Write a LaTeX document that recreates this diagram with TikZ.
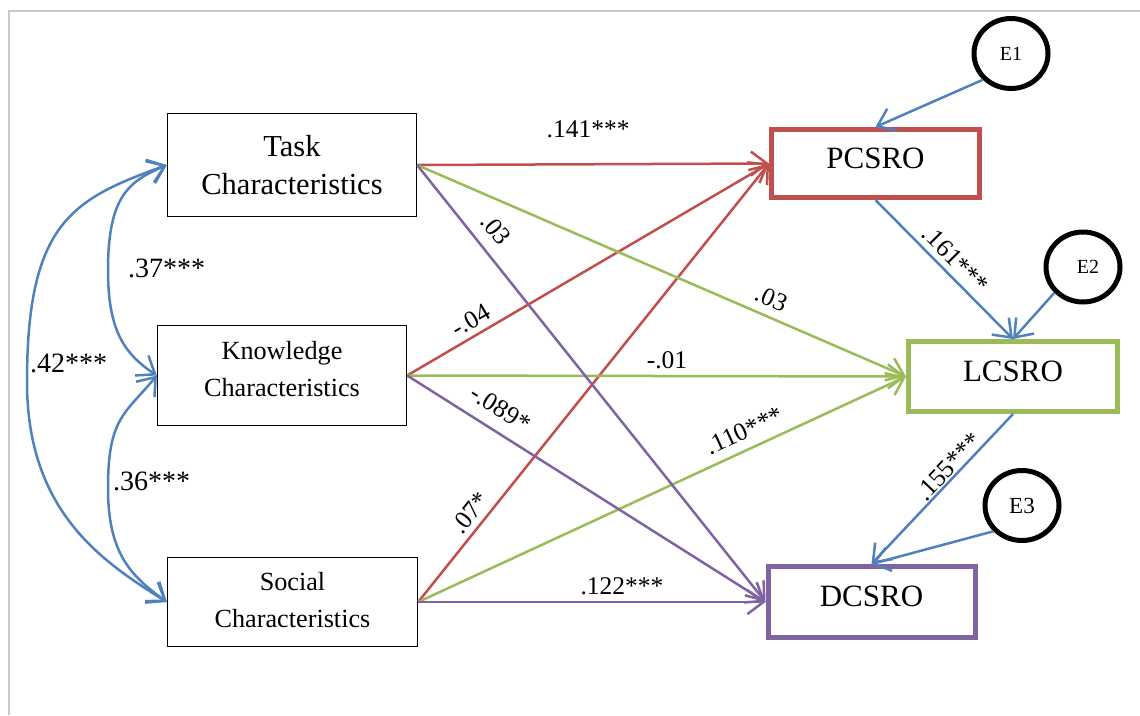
\documentclass[tikz,border=0pt]{standalone}
\usepackage{fontspec}
\setmainfont{Liberation Serif}
\usetikzlibrary{arrows.meta,shapes.geometric}
\definecolor{pathred}{HTML}{C0504D}
\definecolor{pathgreen}{HTML}{9BBB59}
\definecolor{pathpurple}{HTML}{8064A2}
\definecolor{pathblue}{HTML}{4F81BD}
\definecolor{framegray}{HTML}{C8C8C8}
\begin{document}
\begin{tikzpicture}[x=1pt,y=-1pt,
  tipend/.style={-{Straight Barb[length=16pt,width=24pt]}},
  tipboth/.style={{Straight Barb[length=16pt,width=24pt]}-{Straight Barb[length=16pt,width=24pt]}},
  exo/.style={draw=black, line width=1.3pt, rectangle, inner sep=0pt, align=center},
  endo/.style={rectangle, line width=5pt, inner sep=0pt, font=\fontsize{31}{36}\selectfont, text depth=10pt},
  err/.style={ellipse, draw=black, line width=5pt, minimum width=74pt, minimum height=70pt, inner sep=0pt},
  redpath/.style={pathred, line width=2.5pt, tipend},
  greenpath/.style={pathgreen, line width=2.5pt, tipend},
  purplepath/.style={pathpurple, line width=2.5pt, tipend},
  bluepath/.style={pathblue, line width=2.5pt, tipend},
  cov/.style={pathblue, line width=2.5pt, tipboth},
  coef/.style={font=\fontsize{25.5}{30}\selectfont, text=black},
  sidecoef/.style={font=\fontsize{28}{32}\selectfont, text=black, inner sep=0pt}
]
\useasboundingbox (0,0) rectangle (1140,715);

% page frame
\draw[framegray, line width=2pt] (9,715) -- (9,11) -- (1140,11);

% exogenous characteristics
\node[exo, minimum width=249pt, minimum height=103pt, font=\fontsize{30.5}{38}\selectfont]
  (task) at (292,165) {Task\\Characteristics};
\node[exo, minimum width=249pt, minimum height=100pt, font=\fontsize{26.2}{36.5}\selectfont, text depth=13pt]
  (know) at (282,375.5) {Knowledge\\Characteristics};
\node[exo, minimum width=250pt, minimum height=89pt, font=\fontsize{26.2}{36.5}\selectfont, text depth=4pt]
  (social) at (292.5,602) {Social\\Characteristics};

% outcome variables
\node[endo, draw=pathred, minimum width=208pt, minimum height=68pt] (pcsro) at (875.5,163.5) {PCSRO};
\node[endo, draw=pathgreen, minimum width=209pt, minimum height=70pt] (lcsro) at (1013,376.5) {LCSRO};
\node[endo, draw=pathpurple, minimum width=207pt, minimum height=71pt, text depth=12pt] (dcsro) at (871.5,602) {DCSRO};

% error terms
\node[err, font=\fontsize{20}{24}\selectfont] (e1) at (1011,53.5) {E1};
\node[err, font=\fontsize{20}{24}\selectfont] (e2) at (1083,267) {\hspace*{10pt}E2};
\node[err, font=\fontsize{23}{26}\selectfont] (e3) at (1022,505.5) {E3};

% paths to PCSRO
\draw[redpath] (task.east) -- node[coef, above, inner sep=25pt, pos=0.486] (c141) {.141***} (pcsro.west);
\draw[redpath] (know.east) -- node[coef, sloped, above, inner sep=5.8pt, pos=0.197] (c04) {-.04} (pcsro.west);
\draw[redpath] (social.east) -- node[coef, sloped, above, inner sep=5.5pt, pos=0.182] (c07) {.07*} (pcsro.west);

% paths to LCSRO
\draw[greenpath] (task.east) -- node[coef, sloped, above, inner sep=8.5pt, pos=0.71] (c03b) {.03} (lcsro.west);
\draw[greenpath] (know.east) -- node[coef, above, inner sep=6pt, pos=0.521] (c01) {-.01} (lcsro.west);
\draw[greenpath] (social.east) -- node[coef, sloped, above, inner sep=8.6pt, pos=0.685] (c110) {.110***} (lcsro.west);

% paths to DCSRO
\draw[purplepath] (task.east) -- node[coef, sloped, above, inner sep=11.7pt, pos=0.178] (c03a) {.03} (dcsro.west);
\draw[purplepath] (know.east) -- node[coef, sloped, above, inner sep=12.2pt, pos=0.228] (c089) {-.089*} (dcsro.west);
\draw[purplepath] (social.east) -- node[coef, above, inner sep=6pt, pos=0.587] (c122) {.122***} (dcsro.west);

% mediation chain and error terms
\draw[bluepath] (pcsro.south) -- node[coef, sloped, above, inner sep=5.5pt, pos=0.503] (c161) {.161***} (lcsro.north);
\draw[bluepath] (lcsro.south) -- node[coef, sloped, above, inner sep=1pt, pos=0.40] (c155) {.155***} (dcsro.north);
\draw[bluepath] (e1.223) -- (pcsro.north);
\draw[bluepath] (e2.222) -- (lcsro.north);
\draw[bluepath] (e3.222) -- (dcsro.north);

% correlations among the characteristics
\coordinate (apexTK) at (108,270);
\coordinate (apexKS) at (108,488);
\coordinate (apexTS) at (27,382);
\draw[cov] (task.west) .. controls +(-37,16) and +(0,-75) .. (apexTK)
  .. controls +(0,60) and +(-33,-22) .. (know.west);
\draw[cov] (know.west) .. controls +(-32,38.5) and +(0,-70) .. (apexKS)
  .. controls +(0,65) and +(-36.5,-26.5) .. (social.west);
\draw[cov] (task.west) .. controls +(-94,34) and +(0,-160) .. (apexTS)
  .. controls +(0,130) and +(-64,-40) .. (social.west);

\node[sidecoef] (r37) at (166.5,268) {.37***};
\node[sidecoef] (r42) at (68.5,363) {.42***};
\node[sidecoef] (r36) at (151.5,481) {.36***};
\end{tikzpicture}
\end{document}
